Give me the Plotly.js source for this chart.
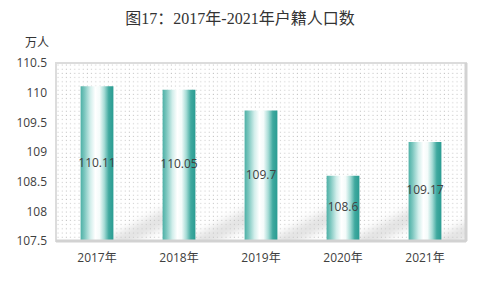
<!DOCTYPE html>
<html>
<head>
<meta charset="utf-8">
<script src="https://cdn.plot.ly/plotly-3.0.1.min.js"></script>
<style>html,body{margin:0;padding:0;background:#fff;}#chart{width:480px;height:294px;}</style>
</head>
<body>
<div id="chart"></div>
<script>
// ---- data ----
const years = ['2017年', '2018年', '2019年', '2020年', '2021年'];
const population = [110.11, 110.05, 109.7, 108.6, 109.17];
const valueLabels = ['110.11', '110.05', '109.7', '108.6', '109.17'];
const yTickVals = [107.5, 108, 108.5, 109, 109.5, 110, 110.5];
const yTickText = ['107.5', '108', '108.5', '109', '109.5', '110', '110.5'];
const Y_MIN = 107.5, Y_MAX = 110.5;

// decorative background: dot grid + soft diagonal bar shadows
const shadowXs = [58, 140, 222, 303, 385];
let shadows = shadowXs.map(x =>
  `<line x1="${x-2}" y1="182" x2="${x+76}" y2="142" stroke="#000" stroke-opacity="0.11" stroke-width="15" filter="url(#b)"/>`
).join('');
const bgSvg = `<svg xmlns="http://www.w3.org/2000/svg" width="410" height="178" viewBox="0 0 410 178" preserveAspectRatio="none">
<defs><pattern id="p" width="4.2" height="4.2" patternUnits="userSpaceOnUse"><rect x="1.5" y="1.5" width="1" height="1" fill="#c4c4c4"/></pattern>
<filter id="b" x="-50%" y="-50%" width="200%" height="200%"><feGaussianBlur stdDeviation="4"/></filter></defs>
<rect width="410" height="178" fill="#fff"/>${shadows}<rect width="410" height="178" fill="url(#p)"/></svg>`;
const bgUri = 'data:image/svg+xml;charset=utf-8,' + encodeURIComponent(bgSvg);

const barTrace = {
  type: 'bar', x: years, y: population, width: 0.4,
  marker: {color: '#3aa89e', line: {width: 0}},
  hoverinfo: 'x+y'
};
const labelTrace = {
  type: 'scatter', mode: 'text', x: years,
  y: population.map(v => (Y_MIN + v) / 2),
  text: valueLabels, textposition: 'middle center',
  textfont: {family: 'Open Sans, Noto Sans CJK SC, sans-serif', size: 12, color: '#404040'},
  hoverinfo: 'skip', cliponaxis: false
};

const layout = {
  width: 480, height: 294,
  margin: {l: 56, r: 14, t: 63, b: 53},
  paper_bgcolor: '#fff', plot_bgcolor: 'rgba(0,0,0,0)',
  showlegend: false,
  title: {text: '图17：2017年-2021年户籍人口数', x: 0.5, xanchor: 'center', y: 0.938, yanchor: 'middle',
    font: {family: 'Liberation Serif, Noto Sans CJK SC, serif', size: 16, color: '#333'}},
  xaxis: {type: 'category', showgrid: false, zeroline: false, showline: false, ticks: '', ticklabelstandoff: 8,
    tickfont: {family: 'Open Sans, Noto Sans CJK SC, sans-serif', size: 12, color: '#404040'}},
  yaxis: {range: [Y_MIN, Y_MAX], tickvals: yTickVals, ticktext: yTickText, showgrid: false, zeroline: false,
    showline: false, ticks: '', ticklabelstandoff: 8,
    tickfont: {family: 'Open Sans, sans-serif', size: 12, color: '#404040'}},
  images: [{source: bgUri, xref: 'paper', yref: 'paper', x: 0, y: 1, sizex: 1, sizey: 1,
    sizing: 'stretch', xanchor: 'left', yanchor: 'top', layer: 'below'}],
  shapes: [
    {type: 'rect', xref: 'paper', yref: 'paper', x0: 0, x1: 1, y0: 0, y1: 1, line: {color: '#dcdcdc', width: 2}},
    {type: 'line', xref: 'paper', yref: 'paper', x0: 1, x1: 1, y0: 0, y1: 1, line: {color: '#d2d2d2', width: 3}},
    {type: 'line', xref: 'paper', yref: 'paper', x0: 0, x1: 1, y0: 0, y1: 0, line: {color: '#d2d2d2', width: 3}}
  ],
  annotations: [{text: '万人', xref: 'paper', yref: 'paper', x: -0.012, y: 1.12, xanchor: 'right', yanchor: 'middle',
    showarrow: false, font: {family: 'Noto Sans CJK SC, sans-serif', size: 12, color: '#333'}}]
};

Plotly.newPlot('chart', [barTrace, labelTrace], layout, {displayModeBar: false, staticPlot: true}).then(gd => {
  const svg = gd.querySelector('svg.main-svg');
  const ns = 'http://www.w3.org/2000/svg';
  let defs = svg.querySelector('defs');
  if (!defs) { defs = document.createElementNS(ns, 'defs'); svg.insertBefore(defs, svg.firstChild); }
  const g = document.createElementNS(ns, 'linearGradient');
  g.setAttribute('id', 'barGrad'); g.setAttribute('x1', '0'); g.setAttribute('x2', '1'); g.setAttribute('y1', '0'); g.setAttribute('y2', '0');
  [[0, '#4db0a6'], [0.12, '#7cc7bf'], [0.3, '#d2eeeb'], [0.45, '#ffffff'], [0.58, '#f4fbfa'], [0.72, '#a7dcd6'], [0.86, '#3fa99f'], [1, '#2a9c92']]
    .forEach(([o, c]) => { const s = document.createElementNS(ns, 'stop'); s.setAttribute('offset', o); s.setAttribute('stop-color', c); g.appendChild(s); });
  defs.appendChild(g);
  gd.querySelectorAll('.barlayer .point path').forEach(p => { p.style.fill = 'url(#barGrad)'; });
});
</script>
</body>
</html>
